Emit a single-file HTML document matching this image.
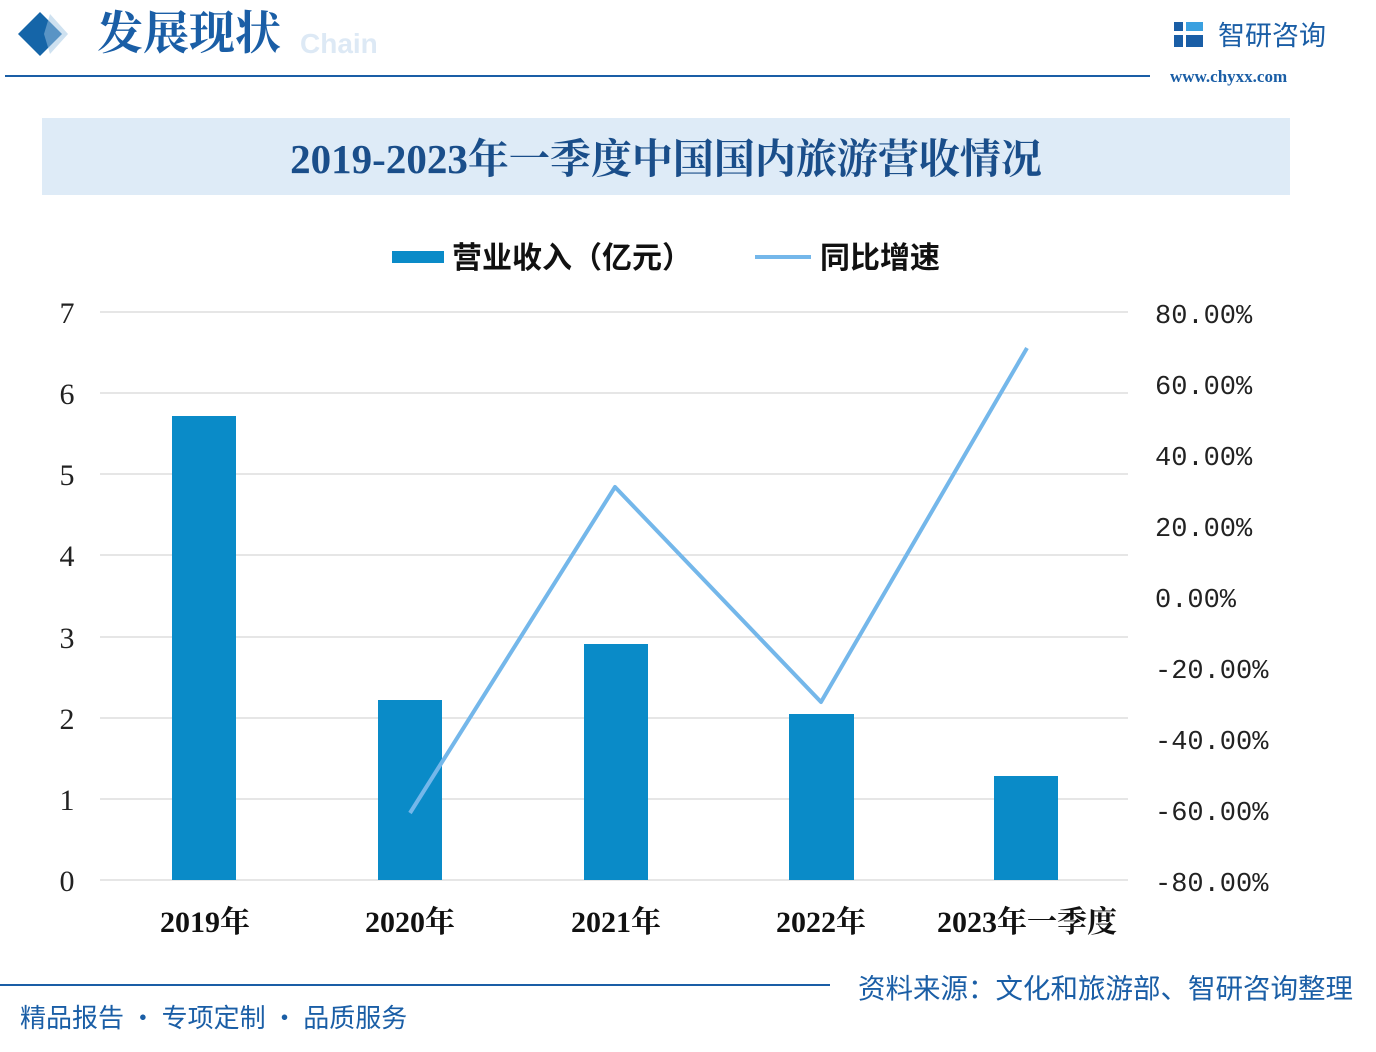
<!DOCTYPE html>
<html><head><meta charset="utf-8"><style>
html,body{margin:0;padding:0;background:#fff;}
body{width:1376px;height:1052px;position:relative;overflow:hidden;font-family:"Liberation Sans","Noto Sans CJK SC",sans-serif;}
</style></head><body>
<svg width="1376" height="1052" viewBox="0 0 1376 1052" xmlns="http://www.w3.org/2000/svg" style="position:absolute;left:0;top:0">
<rect width="1376" height="1052" fill="#fff"/>
<polygon points="40,12 62,34 40,56 18,34" fill="#1565a8"/>
<polygon points="50,14 68,34 50,54 44,34" fill="#9ec3e2" opacity="0.5"/>
<text x="300" y="53" font-size="28" font-weight="bold" fill="#dde9f5" font-family="Liberation Sans,sans-serif">Chain</text>
<text x="97" y="49" font-size="46" font-weight="bold" fill="#1a5ea6" font-family="Noto Serif CJK SC,serif">发展现状</text>
<rect x="5" y="75" width="1145" height="2" fill="#1a5ea6"/>
<rect x="1174" y="22" width="9" height="9" fill="#1a5ea6"/><rect x="1186" y="22" width="17" height="9" fill="#3aa0e0"/>
<rect x="1174" y="35" width="9" height="12" fill="#1a5ea6"/><rect x="1186" y="35" width="17" height="12" fill="#1a5ea6"/>
<text x="1218" y="45" font-size="27" fill="#1a5ea6" font-family="Noto Sans CJK SC,sans-serif">智研咨询</text>
<text x="1170" y="82" font-size="17" fill="#1a5ea6" font-family="Liberation Serif,serif" font-weight="bold">www.chyxx.com</text>
<rect x="42" y="118" width="1248" height="77" fill="#deebf7"/>
<text x="666" y="173" text-anchor="middle" font-size="41" font-weight="bold" fill="#1a4e8a" font-family="Liberation Serif,Noto Serif CJK SC,serif">2019-2023年一季度中国国内旅游营收情况</text>
<rect x="392" y="251" width="52" height="12" fill="#0a8bc8"/>
<text x="452" y="268" font-size="30" font-weight="bold" fill="#111" font-family="Noto Sans CJK SC,sans-serif">营业收入（亿元）</text>
<rect x="755" y="255" width="56" height="4" fill="#74b7ea"/>
<text x="820" y="268" font-size="30" font-weight="bold" fill="#111" font-family="Noto Sans CJK SC,sans-serif">同比增速</text>
<g stroke="#d6d6d6" stroke-width="1.3">
<line x1="100" y1="312" x2="1128" y2="312"/><line x1="100" y1="393" x2="1128" y2="393"/>
<line x1="100" y1="474" x2="1128" y2="474"/><line x1="100" y1="555" x2="1128" y2="555"/>
<line x1="100" y1="637" x2="1128" y2="637"/><line x1="100" y1="718" x2="1128" y2="718"/>
<line x1="100" y1="799" x2="1128" y2="799"/><line x1="100" y1="880" x2="1128" y2="880"/>
</g>
<g font-size="30" fill="#222" font-family="Liberation Serif,serif" text-anchor="middle">
<text x="67" y="323">7</text><text x="67" y="404">6</text><text x="67" y="485">5</text><text x="67" y="566">4</text>
<text x="67" y="648">3</text><text x="67" y="729">2</text><text x="67" y="810">1</text><text x="67" y="891">0</text>
</g>
<g font-size="27" fill="#222" font-family="Liberation Mono,monospace">
<text x="1155" y="323">80.00%</text><text x="1155" y="394">60.00%</text><text x="1155" y="465">40.00%</text>
<text x="1155" y="536">20.00%</text><text x="1155" y="607">0.00%</text><text x="1155" y="678">-20.00%</text>
<text x="1155" y="749">-40.00%</text><text x="1155" y="820">-60.00%</text><text x="1155" y="891">-80.00%</text>
</g>
<g fill="#0a8bc8">
<rect x="172" y="416" width="64" height="464"/><rect x="378" y="700" width="64" height="180"/>
<rect x="584" y="644" width="64" height="236"/><rect x="789" y="714" width="65" height="166"/>
<rect x="994" y="776" width="64" height="104"/>
</g>
<polyline points="410,813 615,487 821,702 1027,348" fill="none" stroke="#74b7ea" stroke-width="4" stroke-linejoin="round"/>
<g font-size="30" font-weight="bold" fill="#111" font-family="Liberation Serif,Noto Serif CJK SC,serif" text-anchor="middle">
<text x="205" y="932">2019年</text><text x="410" y="932">2020年</text><text x="616" y="932">2021年</text>
<text x="821" y="932">2022年</text><text x="1027" y="932">2023年一季度</text>
</g>
<rect x="0" y="984" width="830" height="2" fill="#1a5ea6"/>
<text x="20" y="1027" font-size="26" fill="#1a5ea6" font-family="Noto Sans CJK SC,sans-serif">精品报告 · 专项定制 · 品质服务</text>
<text x="858" y="998" font-size="27.5" fill="#1a5ea6" font-family="Noto Sans CJK SC,sans-serif">资料来源：文化和旅游部、智研咨询整理</text>
</svg>
</body></html>
